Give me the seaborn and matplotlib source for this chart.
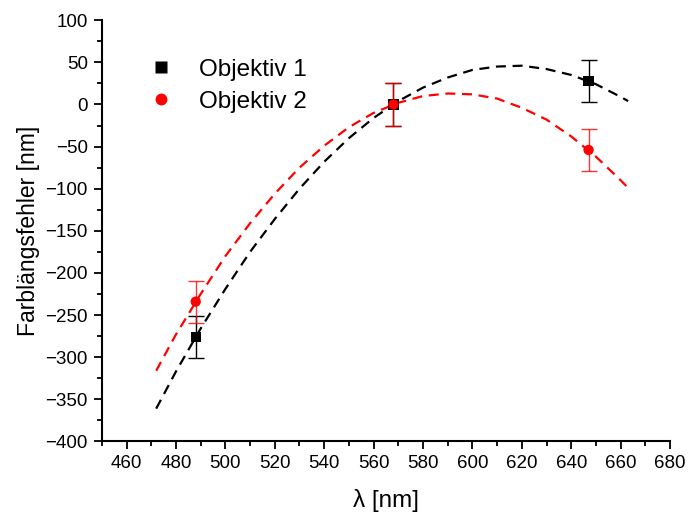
import numpy as np
import pandas as pd
import seaborn as sns
import matplotlib.pyplot as plt
from matplotlib.ticker import MultipleLocator

# measured points
wavelength = [488, 568, 647]
obj1_err = [-276, 0, 28]
obj2_err = [-234, 0, -54]
obj1_sd = [25, 25, 25]
obj2_sd = [25, 25, 25]

# fitted curves
fit_x = [472, 480, 490, 500, 510, 520, 530, 540, 550, 560, 570, 580, 590,
         600, 610, 620, 630, 640, 650, 660, 663]
fit1_y = [-361, -317, -266, -219, -175, -136, -100, -68, -40, -16, 4, 20, 32,
          41, 45, 46, 42, 35, 24, 9, 4]
fit2_y = [-316, -273, -225, -180, -141, -106, -75, -49, -27, -10, 2, 10, 13,
          12, 7, -4, -18, -38, -62, -90, -99]

sns.set_theme(style='ticks')
plt.rcParams['font.family'] = ['Liberation Sans', 'DejaVu Sans']
plt.rcParams['text.color'] = 'black'
plt.rcParams['axes.labelcolor'] = 'black'
plt.rcParams['xtick.color'] = 'black'
plt.rcParams['ytick.color'] = 'black'

fig = plt.figure(figsize=(6.88, 5.18), dpi=100)
ax = fig.add_axes([0.148, 0.1477, 0.826, 0.8133])

df_fit = pd.DataFrame({'x': fit_x * 2, 'y': fit1_y + fit2_y,
                       'name': ['Objektiv 1'] * len(fit_x) + ['Objektiv 2'] * len(fit_x)})
palette = {'Objektiv 1': 'black', 'Objektiv 2': '#ff0000'}
sns.lineplot(data=df_fit, x='x', y='y', hue='name', palette=palette, ax=ax,
             linestyle=(0, (4.5, 3)), linewidth=1.6, legend=False, sort=False)

ax.errorbar(wavelength, obj1_err, yerr=obj1_sd, fmt='none', ecolor='black',
            elinewidth=1, capsize=6, capthick=1)
ax.errorbar(wavelength, obj2_err, yerr=obj2_sd, fmt='none', ecolor='#ff0000',
            elinewidth=1, capsize=6, capthick=1, alpha=0.8)

df_pts = pd.DataFrame({'x': wavelength * 2, 'y': obj1_err + obj2_err,
                       'name': ['Objektiv 1'] * 3 + ['Objektiv 2'] * 3})
sns.scatterplot(data=df_pts, x='x', y='y', hue='name', style='name',
                markers={'Objektiv 1': 's', 'Objektiv 2': 'o'}, palette=palette,
                s=55, edgecolor='none', ax=ax, zorder=5)

ax.set_xlim(450, 680)
ax.set_ylim(-400, 100)
ax.xaxis.set_major_locator(MultipleLocator(20))
ax.xaxis.set_minor_locator(MultipleLocator(10))
ax.yaxis.set_major_locator(MultipleLocator(50))
ax.yaxis.set_minor_locator(MultipleLocator(25))
ax.set_xticks(range(460, 681, 20))
ax.tick_params(which='major', length=6, width=1.3, labelsize=13.5, pad=4)
ax.tick_params(which='minor', length=3.5, width=1.3)
for s in ['left', 'bottom']:
    ax.spines[s].set_linewidth(1.5)
    ax.spines[s].set_color('black')
sns.despine(ax=ax)

ax.set_xlabel('λ [nm]', fontsize=17.5, labelpad=12)
ax.set_ylabel('Farblängsfehler [nm]', fontsize=16.5, labelpad=4)

leg = ax.legend(loc='upper left', bbox_to_anchor=(0.044, 0.96), frameon=False,
                fontsize=17.5, handlelength=1.0, handletextpad=1.05,
                markerscale=1.15, labelspacing=0.4)

fig.savefig('out.png', dpi=100)
